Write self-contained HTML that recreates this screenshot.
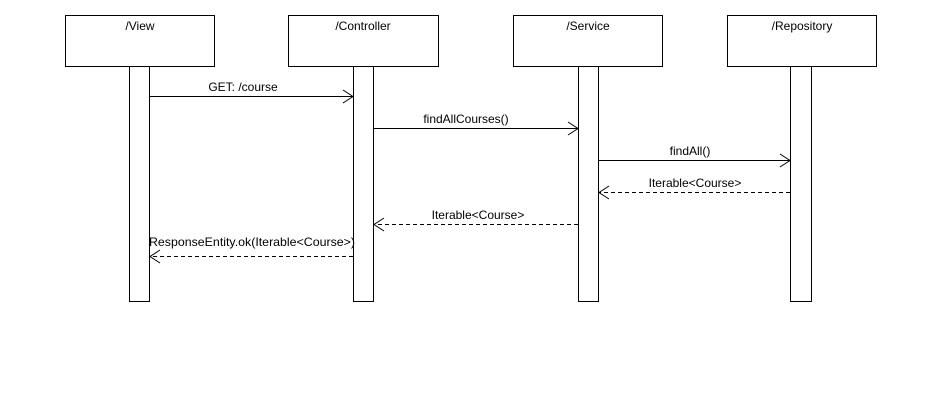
<!DOCTYPE html>
<html><head><style>body{margin:0;background:#fff}svg{display:block}text{font-family:"Liberation Sans",sans-serif;font-size:12px;fill:#000}</style></head>
<body>
<svg width="936" height="416" xmlns="http://www.w3.org/2000/svg">
<g fill="#fff" stroke="#000" stroke-width="1">
<rect x="65.5" y="15.5" width="149" height="51"/>
<rect x="288.5" y="15.5" width="150" height="51"/>
<rect x="513.5" y="15.5" width="149" height="51"/>
<rect x="727.5" y="15.5" width="149" height="51"/>
<rect x="129.5" y="66.5" width="20" height="235"/>
<rect x="353.5" y="66.5" width="20" height="235"/>
<rect x="578.5" y="66.5" width="20" height="235"/>
<rect x="790.5" y="66.5" width="21" height="235"/>
</g>
<g text-anchor="middle">
<text x="140" y="30">/View</text>
<text x="363" y="30">/Controller</text>
<text x="588" y="30">/Service</text>
<text x="802" y="30">/Repository</text>
<text x="243" y="91">GET: /course</text>
<text x="466" y="123">findAllCourses()</text>
<text x="690" y="155">findAll()</text>
<text x="695" y="187">Iterable&lt;Course&gt;</text>
<text x="478" y="219">Iterable&lt;Course&gt;</text>
<text x="252" y="246" textLength="206" lengthAdjust="spacingAndGlyphs">ResponseEntity.ok(Iterable&lt;Course&gt;)</text>
</g>
<g stroke="#000" fill="none" stroke-width="1">
<path d="M150 96.5H353M343 90l10 6.5-10 6.5"/>
<path d="M374 128.5H578M568 122l10 6.5-10 6.5"/>
<path d="M599 160.5H790M780 154l10 6.5-10 6.5"/>
<path d="M790 192.5H599" stroke-dasharray="4,3"/>
<path d="M609 186l-10 6.5 10 6.5"/>
<path d="M578 224.5H374" stroke-dasharray="4,3"/>
<path d="M384 218l-10 6.5 10 6.5"/>
<path d="M353 256.5H150" stroke-dasharray="4,3"/>
<path d="M160 250l-10 6.5 10 6.5"/>
</g>
</svg>
</body></html>
